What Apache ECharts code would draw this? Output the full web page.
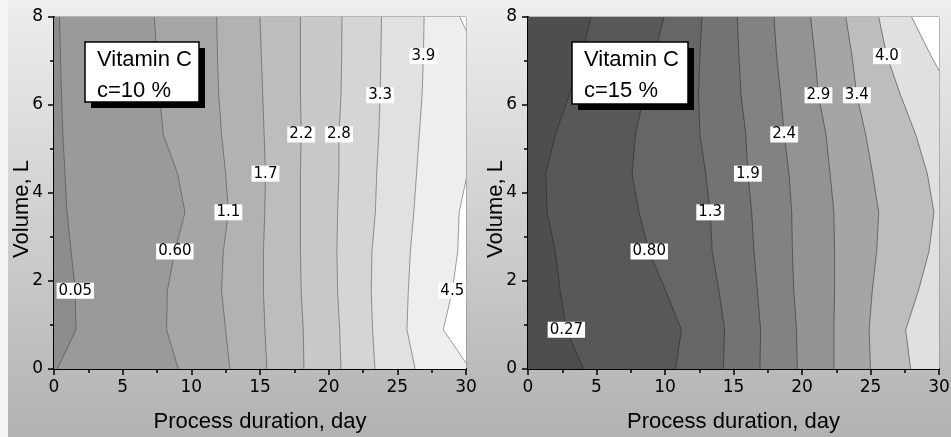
<!DOCTYPE html>
<html>
<head>
<meta charset="utf-8">
<script src="https://cdn.jsdelivr.net/npm/echarts@6/dist/echarts.min.js"></script>
<style>
html,body{margin:0;padding:0;background:#f4f4f4;}
#chart{width:951px;height:437px;}
</style>
</head>
<body>
<div id="chart"></div>
<script>
// ---------- data ----------
// volume grid (y values, L) at which each contour line's x position (day) was read
const volumes = [0, 0.89, 1.78, 2.67, 3.56, 4.44, 5.33, 6.22, 7.11, 8];

// Panel A: Vitamin C, c = 10 %
const titleA = ['Vitamin C', 'c=10 %'];
const levelsA = ['0.05', '0.60', '1.1', '1.7', '2.2', '2.8', '3.3', '3.9', '4.5'];
const labelRowA = [2, 3, 4, 5, 6, 6, 7, 8, 2];
const contourA1 = [0.24, 1.6, 1.55, 1.25, 0.95, 0.8, 0.65, 0.55, 0.47, 0.4];
const contourA2 = [9.05, 8.2, 8.25, 8.8, 9.54, 9.0, 7.95, 7.7, 7.5, 7.3];
const contourA3 = [12.8, 12.5, 12.2, 12.33, 12.7, 12.5, 12.2, 12.0, 11.9, 11.85];
const contourA4 = [15.5, 15.36, 15.25, 15.25, 15.35, 15.4, 15.3, 15.2, 15.1, 15.0];
const contourA5 = [18.2, 18.15, 18.0, 17.95, 17.95, 17.95, 18.0, 17.95, 17.95, 17.95];
const contourA6 = [20.9, 20.8, 20.65, 20.6, 20.65, 20.75, 20.75, 20.9, 20.95, 20.97];
const contourA7 = [23.37, 23.2, 23.1, 23.15, 23.4, 23.5, 23.65, 23.75, 23.8, 23.85];
const contourA8 = [26.3, 25.7, 25.8, 25.95, 26.2, 26.4, 26.6, 26.8, 26.9, 26.95];
const contourA9 = [30.3, 28.35, 29.0, 29.4, 29.5, 30.1, 30.8, 31.0, 30.9, 29.55];

// Panel B: Vitamin C, c = 15 %
const titleB = ['Vitamin C', 'c=15 %'];
const levelsB = ['0.27', '0.80', '1.3', '1.9', '2.4', '2.9', '3.4', '4.0', ''];
const labelRowB = [1, 3, 4, 5, 6, 7, 7, 8, null];
const contourB1 = [4.05, 2.8, 2.35, 2.0, 1.4, 1.3, 2.0, 3.0, 3.9, 4.6];
const contourB2 = [10.78, 11.2, 10.05, 8.85, 8.1, 7.6, 7.85, 8.47, 9.2, 9.93];
const contourB3 = [14.26, 14.35, 13.94, 13.45, 13.3, 12.97, 12.55, 12.45, 12.55, 12.7];
const contourB4 = [16.93, 16.98, 16.74, 16.5, 16.33, 16.05, 15.9, 15.55, 15.4, 15.28];
const contourB5 = [19.66, 19.6, 19.4, 19.3, 19.25, 19.05, 18.7, 18.45, 18.15, 17.96];
const contourB6 = [22.33, 22.33, 22.38, 22.38, 22.33, 22.05, 21.75, 21.2, 20.95, 20.63];
const contourB7 = [25.0, 24.9, 25.13, 25.45, 25.6, 25.15, 24.65, 24.0, 23.65, 23.2];
const contourB8 = [27.93, 27.57, 28.5, 29.27, 29.63, 29.15, 28.3, 27.2, 26.2, 25.6];
const contourB9 = [33, 33, 33, 33, 33, 33, 32, 31, 29.43, 28.0];

const xTickValues = [0, 5, 10, 15, 20, 25, 30];
const yTickValues = [0, 2, 4, 6, 8];

// ---------- styles ----------
const fillsA = ['#8c8c8c','#9a9a9a','#a6a6a6','#b2b2b2','#bdbdbd','#c9c9c9','#d5d5d5','#e1e1e1','#eeeeee','#ffffff'];
const fillsB = ['#4e4e4e','#585858','#666666','#737373','#828282','#939393','#a5a5a5','#bdbdbd','#e0e0e0','#ffffff'];
const FONT = '"Liberation Sans", Arial, sans-serif';
const NUMFONT = '"DejaVu Sans", "Liberation Sans", sans-serif';

const linesA = [contourA1, contourA2, contourA3, contourA4, contourA5, contourA6, contourA7, contourA8, contourA9];
const linesB = [contourB1, contourB2, contourB3, contourB4, contourB5, contourB6, contourB7, contourB8, contourB9];

function fillSeries(gi, lines, fills) {
  return {
    type: 'custom', xAxisIndex: gi, yAxisIndex: gi, clip: true, silent: true, z: 1,
    data: fills.map((c, i) => [0, 0, i]),
    renderItem(params, api) {
      const i = params.dataIndex;
      const cs = params.coordSys;
      const far = cs.x + cs.width + 400;
      let pts;
      if (i === 0) {
        pts = [[cs.x - 5, cs.y - 5], [far, cs.y - 5], [far, cs.y + cs.height + 5], [cs.x - 5, cs.y + cs.height + 5]];
      } else {
        const L = lines[i - 1];
        pts = volumes.map((v, k) => api.coord([L[k], v]));
        const top = pts[pts.length - 1], bot = pts[0];
        pts.push([far, top[1]]);
        pts.push([far, bot[1]]);
      }
      return { type: 'polygon', shape: { points: pts }, style: { fill: fills[i], stroke: null } };
    }
  };
}

function lineSeries(gi, lines, color) {
  return {
    type: 'custom', xAxisIndex: gi, yAxisIndex: gi, clip: true, silent: true, z: 3,
    data: lines.map((l, i) => [0, 0, i]),
    renderItem(params, api) {
      const L = lines[params.dataIndex];
      const pts = volumes.map((v, k) => api.coord([L[k], v]));
      return { type: 'polyline', shape: { points: pts }, style: { stroke: color, lineWidth: 0.9, fill: null } };
    }
  };
}

function labelSeries(gi, lines, levels, rows) {
  const items = [];
  levels.forEach((lv, i) => {
    if (rows[i] === null || lv === '') return;
    items.push([lines[i][rows[i]], volumes[rows[i]], lv]);
  });
  return {
    type: 'custom', xAxisIndex: gi, yAxisIndex: gi, clip: false, silent: true, z: 5,
    data: items,
    renderItem(params, api) {
      const p = api.coord([api.value(0), api.value(1)]);
      return {
        type: 'text', x: p[0], y: p[1],
        style: {
          text: items[params.dataIndex][2], fill: '#000', font: '15px ' + NUMFONT,
          align: 'center', verticalAlign: 'middle',
          backgroundColor: '#fff', padding: [1, 2, 0, 2]
        }
      };
    }
  };
}

function xAxis(gi) {
  return {
    type: 'value', gridIndex: gi, min: 0, max: 30, interval: 5,
    name: 'Process duration, day', nameLocation: 'middle', nameGap: 42, nameMoveOverlap: false,
    nameTextStyle: { fontFamily: FONT, fontSize: 22, color: '#000' },
    axisLine: { show: true, onZero: false, lineStyle: { color: '#000', width: 2 } },
    axisTick: { show: true, length: 6, lineStyle: { color: '#000', width: 1.5 } },
    minorTick: { show: true, splitNumber: 2, length: 4, lineStyle: { color: '#000', width: 1.5 } },
    axisLabel: { fontFamily: NUMFONT, fontSize: 17, color: '#000', margin: 10,
      formatter: v => (xTickValues.indexOf(v) >= 0 ? String(v) : '') },
    splitLine: { show: false }, minorSplitLine: { show: false }
  };
}
function yAxis(gi) {
  return {
    type: 'value', gridIndex: gi, min: 0, max: 8, interval: 2,
    name: 'Volume, L', nameLocation: 'middle', nameGap: 21, nameMoveOverlap: false,
    nameTextStyle: { fontFamily: FONT, fontSize: 22, color: '#000', padding: [0, 32, 0, 0] },
    axisLine: { show: true, onZero: false, lineStyle: { color: '#000', width: 2 } },
    axisTick: { show: true, length: 6, lineStyle: { color: '#000', width: 1.5 } },
    minorTick: { show: true, splitNumber: 2, length: 4, lineStyle: { color: '#000', width: 1.5 } },
    axisLabel: { fontFamily: NUMFONT, fontSize: 17, color: '#000', margin: 11,
      formatter: v => (yTickValues.indexOf(v) >= 0 ? String(v) : '') },
    splitLine: { show: false }, minorSplitLine: { show: false }
  };
}

function legendBox(x, y, w, h, lines) {
  return [
    { type: 'rect', z: 100, shape: { x: x + 6, y: y + 6, width: w, height: h }, style: { fill: '#000' } },
    { type: 'rect', z: 101, shape: { x: x, y: y, width: w, height: h }, style: { fill: '#fff', stroke: '#000', lineWidth: 1.5 } },
    { type: 'text', z: 102, x: x + 12, y: y + 18, style: { text: lines[0], font: '22px ' + FONT, fill: '#000', verticalAlign: 'middle' } },
    { type: 'text', z: 102, x: x + 12, y: y + 49, style: { text: lines[1], font: '22px ' + FONT, fill: '#000', verticalAlign: 'middle' } }
  ];
}

const chart = echarts.init(document.getElementById('chart'), null, { renderer: 'canvas' });
chart.setOption({
  animation: false,
  backgroundColor: 'transparent',
  grid: [
    { left: 54, top: 17, width: 412, height: 352, outerBoundsMode: 'none', containLabel: false,
      show: true, borderColor: '#808080', borderWidth: 1, backgroundColor: 'transparent' },
    { left: 528, top: 17, width: 411, height: 352, outerBoundsMode: 'none', containLabel: false,
      show: true, borderColor: '#808080', borderWidth: 1, backgroundColor: 'transparent' }
  ],
  xAxis: [xAxis(0), xAxis(1)],
  yAxis: [yAxis(0), yAxis(1)],
  graphic: [
    { type: 'rect', z: -100, shape: { x: 8, y: 0, width: 943, height: 437 },
      style: { fill: new echarts.graphic.LinearGradient(0, 0, 0, 1, [
        { offset: 0, color: '#eeeeee' }, { offset: 1, color: '#b2b2b2' }]) } }
  ].concat(legendBox(85, 42, 114, 60, titleA), legendBox(572, 42, 116, 62, titleB)),
  series: [
    fillSeries(0, linesA, fillsA),
    fillSeries(1, linesB, fillsB),
    lineSeries(0, linesA, 'rgba(60,60,60,0.55)'),
    lineSeries(1, linesB, 'rgba(30,30,30,0.55)'),
    labelSeries(0, linesA, levelsA, labelRowA),
    labelSeries(1, linesB, levelsB, labelRowB)
  ]
});
</script>
</body>
</html>
